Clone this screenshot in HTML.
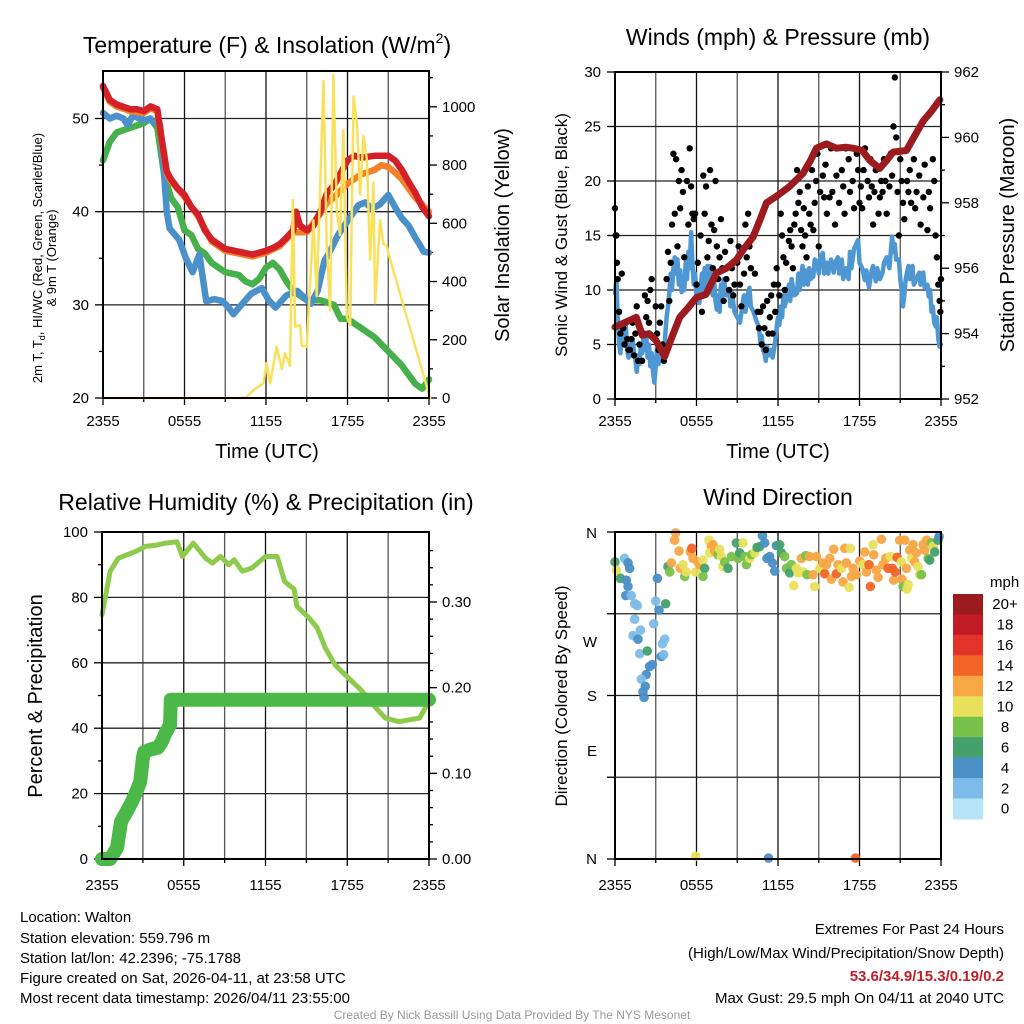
<!DOCTYPE html>
<html><head><meta charset="utf-8"><style>
html,body{margin:0;padding:0;background:#fff;}
svg{display:block;font-family:"Liberation Sans",Arial,sans-serif;}
</style></head><body>
<svg id="fig" width="1024" height="1024" viewBox="0 0 1024 1024" xmlns="http://www.w3.org/2000/svg">
<rect width="1024" height="1024" fill="#fff"/>
<g id="titles" fill="#000">
<text x="267" y="53" font-size="23" text-anchor="middle">Temperature (F) &amp; Insolation (W/m<tspan font-size="14" dy="-10">2</tspan><tspan dy="10">)</tspan></text>
<text x="778" y="45" font-size="23" text-anchor="middle">Winds (mph) &amp; Pressure (mb)</text>
<text x="266" y="510" font-size="23" text-anchor="middle">Relative Humidity (%) &amp; Precipitation (in)</text>
<text x="778" y="505" font-size="23" text-anchor="middle">Wind Direction</text>
<text x="267" y="458" font-size="20" text-anchor="middle">Time (UTC)</text>
<text x="778" y="458" font-size="20" text-anchor="middle">Time (UTC)</text>
<text transform="translate(42,258) rotate(-90)" font-size="13" text-anchor="middle">2m T, T<tspan font-size="9" dy="3">d</tspan><tspan dy="-3">, HI/WC (Red, Green, Scarlet/Blue)</tspan></text>
<text transform="translate(56,258) rotate(-90)" font-size="13" text-anchor="middle">&amp; 9m T (Orange)</text>
<text transform="translate(509,235) rotate(-90)" font-size="20" text-anchor="middle">Solar Insolation (Yellow)</text>
<text transform="translate(567,235) rotate(-90)" font-size="17" text-anchor="middle">Sonic Wind &amp; Gust (Blue, Black)</text>
<text transform="translate(1014,235) rotate(-90)" font-size="20" text-anchor="middle">Station Pressure (Maroon)</text>
<text transform="translate(42,696) rotate(-90)" font-size="20" text-anchor="middle">Percent &amp; Precipitation</text>
<text transform="translate(567,696) rotate(-90)" font-size="17" text-anchor="middle">Direction (Colored By Speed)</text>
</g>
<g id="info" font-size="15" fill="#000">
<text x="20" y="922">Location: Walton</text>
<text x="20" y="943">Station elevation: 559.796 m</text>
<text x="20" y="963">Station lat/lon: 42.2396; -75.1788</text>
<text x="20" y="983">Figure created on Sat, 2026-04-11, at 23:58 UTC</text>
<text x="20" y="1003">Most recent data timestamp: 2026/04/11 23:55:00</text>
<text x="1004" y="934" text-anchor="end">Extremes For Past 24 Hours</text>
<text x="1004" y="958" text-anchor="end">(High/Low/Max Wind/Precipitation/Snow Depth)</text>
<text x="1004" y="981" text-anchor="end" fill="#c0202a" font-weight="bold">53.6/34.9/15.3/0.19/0.2</text>
<text x="1004" y="1003" text-anchor="end">Max Gust: 29.5 mph On 04/11 at 2040 UTC</text>
<text x="512" y="1019" text-anchor="middle" font-size="12" fill="#999">Created By Nick Bassill Using Data Provided By The NYS Mesonet</text>
</g>
</svg>
<script>
// ---------- DATA ----------
const xTickLabels = ["2355","0555","1155","1755","2355"];
const tempTicks = [20,30,40,50];
const solarTicks = [0,200,400,600,800,1000];
const windTicks = [0,5,10,15,20,25,30];
const presTicks = [952,954,956,958,960,962];
const rhTicks = [0,20,40,60,80,100];
const precipTicks = [0,0.1,0.2,0.3];
const precipTickLabels = ["0.00","0.10","0.20","0.30"];
const dirLabels = ["N","W","S","E","N"];
const speedBins = ["0","2","4","6","8","10","12","14","16","18","20+"];
const speedColors = ["#b8e4f8","#7dbce8","#4a8fc6","#44a16e","#78c14b","#e8e05a","#f8a745","#f26527","#e0342b","#c21b25","#9b1b1e"];

const redT = [0,0.5,1,2,2.5,3,3.5,4,4.3,4.7,5,5.5,6,6.5,7,7.5,8,9,10,11,12,12.5,13,13.5,14,14.2,14.5,15,15.5,16,16.5,17,18,18.5,19,20,21,21.5,22,22.5,23,23.5,24];
const redV = [53.5,52,51.5,51,51,50.8,51.3,51,48,44.3,43.5,42.5,41.8,40.5,39.7,38,37,36,35.7,35.4,35.8,36.1,36.5,37.2,38,40,38.5,38,38.5,40,42,42.8,45.5,46,45.8,46,46,45.5,44.5,43.2,42,40.5,39.5];
const orangeT = [0,0.5,1,2,3,3.5,4,4.3,4.7,5,6,7,8,9,10,11,12,13,14,15,16,16.5,17,18,18.5,19,20,20.5,21,21.5,22,22.5,23,24];
const orangeV = [53.3,51.8,51.3,50.8,50.6,51.1,50.8,47.8,44.1,43.3,41.6,39.5,36.8,35.8,35.5,35.2,35.6,36.3,37.8,37.8,39.8,41,41.5,43,43.5,44,44.5,45,44.8,44.2,43.5,42.5,41.5,40];
const blueT = [0,0.5,1,1.5,1.8,2.2,3,3.5,3.7,4.2,4.5,4.7,4.9,5.2,5.6,6.1,6.6,7.1,7.6,8.2,8.8,9.2,9.6,10.2,10.9,11.7,12.2,12.7,13.5,14.3,15.3,15.8,16.3,16.8,17.3,18,18.8,19.3,19.8,20.4,21,21.5,22,22.5,23,23.3,23.6,24];
const blueV = [50.6,50,50.3,50,49.3,50.3,49.8,50,49.6,49.3,44,40,38.2,37.7,37,35,33.5,35.4,30.4,30.6,30.4,29.8,29,30,31.2,31.8,30.5,29.7,31,31.5,30.1,31.5,34.7,36,37.5,39,40.7,41,40.3,40.8,41.8,40.5,39.3,38.5,37.2,36.5,35.7,35.6];
const greenT = [0,0.5,1,2,3,3.5,4,4.5,5,5.5,6,6.5,7,7.5,8,9,10,10.5,11,11.5,12,12.5,13,13.5,14,15,16,17,17.5,18,19,20,21,22,23,23.5,24];
const greenV = [45.5,47.5,48.5,49,49.5,50,49,44,41.5,40.5,38,37.5,36,35.5,34.5,33.5,33.2,32.5,32.2,32.8,34,34.5,33.8,32.5,31.5,30.5,30.5,30,28.5,28.5,27.5,26.5,25,23.5,21.5,21,22];
const solarT = [0,10.5,11.07,11.81,12.05,12.3,12.79,13.16,13.4,13.77,13.97,14.14,14.51,14.63,15.0,15.49,15.73,15.98,16.23,16.47,16.72,16.96,17.21,17.45,17.7,17.95,18.2,18.44,18.69,18.93,19.18,19.42,19.67,19.91,20.03,20.16,20.4,20.65,20.9,21.14,24.08];
const solarV = [0,0,27,50,120,50,176,100,153,110,680,245,250,180,176,610,350,715,1090,530,300,1110,645,560,920,280,250,1035,945,700,900,820,475,740,326,420,610,530,520,475,0];

const presT = [0,1.57,2.0,2.5,3.0,3.66,4.2,4.76,5.4,5.99,6.7,7.46,8.2,8.94,9.5,10.16,10.7,11.15,11.88,12.86,13.84,14.4,14.83,15.56,16.3,17.0,17.52,18.2,18.75,19.49,20.0,20.47,21.45,22.0,22.68,23.3,23.91];
const presV = [954.2,954.5,953.95,954.0,953.8,953.3,953.9,954.5,954.8,955.1,955.2,955.85,956.0,956.25,956.6,956.95,957.5,958.0,958.2,958.5,958.9,959.3,959.67,959.8,959.67,959.7,959.67,959.6,959.3,959.05,959.3,959.55,959.6,960.0,960.5,960.8,961.15];
const windT = [
0,0.1,0.2,0.3,0.4,0.5,0.6,0.7,0.8,0.9,
1.0,1.1,1.2,1.3,1.4,1.5,1.6,1.7,1.8,1.9,
2.0,2.1,2.2,2.3,2.4,2.5,2.6,2.7,2.8,2.9,
3.0,3.1,3.2,3.3,3.4,3.5,3.6,3.7,3.8,3.9,
4.0,4.1,4.2,4.3,4.4,4.5,4.6,4.7,4.8,4.9,
5.0,5.1,5.2,5.3,5.4,5.5,5.6,5.7,5.8,5.9,
6.0,6.1,6.2,6.3,6.4,6.5,6.6,6.7,6.8,6.9,
7.0,7.1,7.2,7.3,7.4,7.5,7.6,7.7,7.8,7.9,
8.0,8.2,8.4,8.5,8.6,8.8,9.0,9.2,9.4,9.5,
9.6,9.8,9.9,10.0,10.2,10.4,10.6,10.7,10.8,10.9,
11.0,11.1,11.2,11.3,11.5,11.6,11.7,11.8,11.9,12.0,
12.1,12.2,12.3,12.4,12.5,12.6,12.8,12.9,13.0,13.2,
13.4,13.5,13.6,13.8,13.9,14.0,14.2,14.3,14.4,14.6,
14.7,14.9,15.0,15.1,15.3,15.4,15.6,15.7,15.9,16.1,
16.2,16.4,16.5,16.7,16.8,17.0,17.2,17.3,17.4,17.6,
17.9,18.0,18.2,18.4,18.5,18.7,18.9,19.0,19.2,19.3,
19.5,19.7,19.8,20.0,20.2,20.4,20.5,20.6,20.7,20.9,
21.0,21.1,21.2,21.3,21.4,21.6,21.7,21.9,22.0,22.2,
22.4,22.5,22.7,22.8,23.0,23.1,23.2,23.3,23.4,23.5,
23.6,23.7,23.8,23.9,24];
const windV = [
9.7,11,7.5,5,4.2,6,7,5.5,6.6,4.5,
3.8,5,4,5.5,4.2,3.6,2.5,4,3.2,5,
4.2,5.7,4.5,6,3.8,5,3,4.2,2.5,1.5,
3,4.8,3.2,4.5,3.5,5,3.8,6,7.5,8.5,
9.7,11.5,10,12,13,11.5,12.8,10.5,11.8,9.8,
11.2,10,12.5,11,13.5,12,15.3,12.5,10.5,11.5,
9.5,10.5,8.8,10,11.5,9.8,12,10.5,12.2,11,
12.2,10,9.5,10.8,9,8.2,9.5,8,10.5,9.2,
11,9.5,10,8.5,9.8,8,7.5,7,8.8,9.5,
8,9.7,10.2,8.5,8,7.2,6.6,5.2,5.8,4.5,
4.2,3.5,4.8,4,4.5,3.8,4.5,5.4,6.5,7.5,
6.8,8.5,7.5,9.5,8.5,9.1,10.5,9,11,9.5,
9.7,11.5,10,12.2,10.5,11.8,10.5,12,11,11.25,
12.8,12.5,11.5,13,13.4,11.5,12.5,11.5,12.8,11.6,
12.5,13,11.5,12.8,11,12,11,13.5,12,13.8,
14.6,12.5,12,10.9,11.8,10.2,11.8,12.2,10.8,12,
11,11.6,12.5,13,12,14.9,13.5,14.2,12.8,12.8,
11,10,8.5,9.5,11,12.2,11,12.2,10.5,11,
11.6,10.5,11.6,10.2,10.5,9.4,10,8,8.5,7,
6.65,7.5,5.5,4.8,5];
const gustT = [0,0.05,0.1,0.15,0.2,0.3,0.4,0.5,0.6,0.7,0.8,0.9,1.0,1.1,1.2,1.3,1.4,1.5,1.6,1.7,1.8,2.0,2.1,2.2,2.3,2.4,2.5,2.6,2.7,2.9,3.0,3.1,3.2,3.3,3.4,3.5,3.6,3.8,3.9,4.0,
4.1,4.2,4.3,4.4,4.5,4.6,4.7,4.8,4.9,5.0,5.1,5.3,5.4,5.5,5.6,5.7,5.8,5.9,6.0,6.1,6.3,6.4,6.5,6.6,6.7,6.8,6.9,
7.0,7.1,7.2,7.3,7.4,7.5,7.6,7.7,7.8,7.9,8.0,8.1,8.2,8.4,8.5,8.6,8.7,8.8,9.0,9.1,9.2,9.3,9.5,9.6,9.7,9.8,9.9,10.0,10.2,10.3,10.5,10.6,10.7,10.8,10.9,11.0,11.1,11.2,11.3,11.4,11.5,11.6,11.7,11.8,
11.9,12.0,12.1,12.2,12.3,12.4,12.5,12.6,12.8,12.9,13.0,13.1,13.2,13.3,13.4,13.5,13.6,13.7,13.8,13.9,
14.0,14.1,14.2,14.3,14.4,14.5,14.6,14.7,14.8,14.9,15.0,15.1,15.3,15.4,15.5,15.6,15.8,15.9,16.0,16.2,16.3,16.5,16.7,16.8,16.9,17.0,17.2,17.3,17.5,17.6,17.8,17.9,18.0,18.1,18.2,18.3,18.4,18.6,18.7,18.8,18.9,19.0,19.1,19.2,19.4,19.5,19.6,19.7,19.8,19.9,20.0,20.2,20.3,20.4,20.5,20.6,20.7,20.8,20.9,21.0,21.1,21.2,21.3,21.5,21.6,21.7,21.8,22.0,22.1,22.2,22.4,22.5,22.7,22.8,23.0,23.1,23.2,23.4,23.5,23.6,23.7,23.8,23.9,24.0,23.95];
const gustV = [17.5,15,15,12.5,11,8,6,11.5,6.5,5,7,5.5,4.5,4.5,5.5,7,4,6,8.5,3.5,5,3.5,6,9.5,7.5,9,7,10,11,5.5,8.5,6,4.5,7,8.5,5,3.5,11,13.5,9,
12.5,16,22.5,17,22,14,20,17.5,21,19,13,20,16,23,19.5,17,16.5,17,10.5,12.5,15,8,20.5,17,19.5,13,14.5,
21,16,12,15.5,20,14,11,13,16.5,12,9,13.5,11,10,14.5,12,9.5,10.5,12.5,14,10.5,8.5,11.5,16,13,17,14,12,15,11.5,8,6.5,8,5,8.5,6.5,4.5,9,6,7.5,9.5,6,10.5,8,
12,10.5,9.5,17,15,13,10,12.5,14.5,15.5,14,12,16,17,21,18,19,15.5,14,17.5,
15,13,19.5,17,16,21,15.5,18,20,22.5,14,19,20.5,18.5,21.5,17,18.5,23,19,16,20.5,18,21,19.5,17,23,22,19,20,17.5,22.5,21,18,19.5,17.5,21,23,20,18.5,22,19.5,16,19,21,17,18.5,20,19,22,20,17,19.5,22.5,20.5,25,29.5,24,19,15,22,20,18,16.5,20,19,21,18,22,17.5,19,20.5,16,18.5,21.5,15.5,19,17.5,22,20,15,13,10.5,9,11,8];

const rhT = [0,0.6,1.2,2.45,3.2,4.0,4.7,5.5,5.9,6.7,7.6,8.1,8.7,9.3,9.7,10.3,11,12,12.85,13.4,14.1,14.3,15.2,15.8,16.4,17.1,18.1,19.1,20.1,20.8,21.8,22.6,23.3,24];
const rhV = [74.7,88,92,94,95.6,96,96.6,97,92.5,96.6,92,90.5,92.5,90,91.5,88,89,92.5,92.5,84.9,82.5,77.3,73.7,70.6,64.5,59.4,55.3,51.3,46.2,43.1,42,42.6,43.1,48.2];
const precipT = [0,0.6,1.1,1.4,1.8,2.2,2.5,2.8,3.0,3.1,3.6,4.1,4.4,4.6,5.0,5.05,24];
const precipV = [0,0,0.013,0.044,0.055,0.067,0.078,0.09,0.118,0.125,0.128,0.13,0.137,0.145,0.157,0.186,0.186];

const dirT = [
0,0.1,0.4,0.7,0.96,1.08,0.83,0.96,0.79,1.2,
1.45,1.64,1.45,1.87,1.33,1.69,1.82,2.38,2.55,2.75,
2.3,1.94,2.23,2.06,2.14,3.41,3.58,3.49,3.66,2.85,
3.24,3.0,3.12,3.73,3.9,4.15,4.03,4.39,4.47,4.71,
4.81,5.0,5.13,5.25,5.55,5.65,5.74,5.94,6.11,6.23,
6.48,6.6,6.48,6.92,7.09,7.22,6.97,7.34,7.58,7.71,
7.83,7.95,8.08,8.32,8.57,8.93,9.06,9.18,9.43,9.55,
9.67,9.92,10.04,10.28,10.46,10.65,10.85,11.02,11.19,11.39,
11.59,11.76,11.88,12.12,12.25,12.49,12.62,12.86,12.98,13.16,
13.35,13.48,13.72,13.84,14.04,14.14,14.33,14.58,14.7,14.83,
15.07,15.32,15.44,15.56,15.81,15.93,16.1,16.3,16.42,16.67,
16.79,16.91,17.03,17.23,17.33,17.4,17.53,17.77,18.02,18.26,
18.38,18.51,18.7,18.8,19.0,19.05,19.24,19.37,19.61,19.73,
19.93,20.1,20.27,20.42,20.52,20.62,20.77,20.96,21.08,21.13,
21.21,21.33,21.45,21.5,21.58,21.7,21.82,21.94,22.07,22.19,
22.31,22.43,22.56,22.68,22.8,22.93,23.05,23.17,23.29,23.42,
23.54,23.78,23.86,5.95,11.3,17.7];
const dirV = [
327,318,309,331,326,320,307,300,290,290,
281,279,264,252,246,242,226,229,212,214,
203,198,190,184,178,223,225,237,242,259,
274,284,309,281,322,326,316,351,359,339,
320,324,311,316,338,342,331,316,327,324,
329,320,311,351,344,346,337,339,335,341,
333,322,327,320,333,348,331,337,348,333,
324,331,335,337,343,344,356,348,331,333,
326,317,345,346,337,333,320,315,324,301,
320,315,331,316,334,313,333,313,300,333,
320,326,314,324,331,308,341,314,324,320,
305,342,326,299,342,311,320,313,328,324,
338,316,324,300,346,335,318,310,352,324,
331,320,333,320,307,316,332,351,327,308,
300,351,320,297,302,340,331,346,327,337,
322,313,313,346,340,351,331,329,348,344,
338,351,355,3,1,1];
const dirS = [
7,10,6,2,4,4,4,4,4,2,
2,2,2,2,2,4,2,6,4,4,
4,2,4,4,4,4,2,2,2,2,
4,2,4,6,6,12,8,12,12,12,
12,10,8,10,12,14,12,10,12,12,
10,6,8,10,12,12,10,12,8,10,
10,10,8,6,8,6,8,6,10,8,
8,10,8,10,6,6,4,4,4,4,
4,4,4,6,6,8,8,6,8,10,
10,10,12,10,8,8,12,12,10,12,
10,12,14,12,12,12,12,14,12,10,
12,12,12,10,10,12,12,12,12,10,
12,12,14,14,10,12,12,12,12,12,
12,14,10,14,12,14,14,12,10,12,
8,12,12,10,10,12,10,12,12,12,
10,10,8,12,12,12,8,6,8,10,
6,6,4,10,4,14];

// ---------- DRAWING ----------
const svg = document.getElementById('fig');
const NS = 'http://www.w3.org/2000/svg';
function mk(tag, attrs, parent){ const e=document.createElementNS(NS,tag); for(const k in attrs) e.setAttribute(k,attrs[k]); (parent||svg).appendChild(e); return e; }

function panel(p){
  const g = mk('g',{});
  
  
  p.g = g; return g;
}
function xScale(p){ return t => p.x0 + t/24*(p.x1-p.x0); }
function lin(d0,d1,r0,r1){ return v => r0 + (v-d0)/(d1-d0)*(r1-r0); }

function frame(p, hTicksY, leftLabels, rightTicksY, rightLabels, leftMinorY, rightMinorY, xlabY){
  const g=p.g;
  const grid = mk('g',{stroke:'#222','stroke-width':1.3},g);
  
  
  const xs = xScale(p);
  for(let h=3;h<24;h+=3){ const x=xs(h); mk('line',{x1:x,x2:x,y1:p.y0,y2:p.y1, stroke: (h%6===0)?'#111':'#555'},grid); }
  hTicksY.forEach(y=>{ if(y>p.y0+1&&y<p.y1-1) mk('line',{x1:p.x0,x2:p.x1,y1:y,y2:y},grid); });
  const ax = mk('g',{stroke:'#000','stroke-width':1.3},g);
  
  
  hTicksY.forEach(y=> mk('line',{x1:p.x0-8,x2:p.x0,y1:y,y2:y},ax));
  (leftMinorY||[]).forEach(y=> mk('line',{x1:p.x0-4,x2:p.x0,y1:y,y2:y},ax));
  rightTicksY.forEach(y=> mk('line',{x1:p.x1,x2:p.x1+8,y1:y,y2:y},ax));
  (rightMinorY||[]).forEach(y=> mk('line',{x1:p.x1,x2:p.x1+4,y1:y,y2:y},ax));
  for(let h=0;h<=24;h+=3){ const x=xs(h); mk('line',{x1:x,x2:x,y1:p.y1,y2:p.y1+(h%6===0?7:4)},ax); }
  const lab = mk('g',{'font-size':15,fill:'#000'},g);
  
  
  leftLabels.forEach((s,i)=>{ const t=mk('text',{x:p.x0-14,y:hTicksY[i]+5,'text-anchor':'end'},lab); t.textContent=s; });
  rightLabels.forEach((s,i)=>{ const t=mk('text',{x:p.x1+13,y:rightTicksY[i]+5},lab); t.textContent=s; });
  xTickLabels.forEach((s,i)=>{ const t=mk('text',{x:xs(i*6),y:xlabY,'text-anchor':'middle'},lab); t.textContent=s; });
}
function drawBorder(p){
  const b = mk('rect',{x:p.x0,y:p.y0,width:p.x1-p.x0,height:p.y1-p.y0,fill:'none',stroke:'#000','stroke-width':2},p.g);
  
  
}
function line(p, ts, vs, ys, color, w, name){
  const xs=xScale(p);
  const d = ts.map((t,i)=>(i?'L':'M')+xs(t).toFixed(1)+','+ys(vs[i]).toFixed(1)).join('');
  const e = mk('path',{d:d,fill:'none',stroke:color,'stroke-width':w,'stroke-linejoin':'round','stroke-linecap':'round'},p.g);
  
  
  return e;
}

// Temperature panel
const P1={name:'temperature-panel',x0:103,x1:429,y0:71,y1:398}; panel(P1);
const tY = lin(20,55.1,398,71), sY = lin(0,1123,398,71);
frame(P1, tempTicks.map(tY), tempTicks.map(String), solarTicks.map(sY), solarTicks.map(String),
  [25,35,45].map(tY), [100,300,500,700,900,1100].map(sY), 426);
line(P1, greenT, greenV, tY, '#46b04a', 6.5, 'dewpoint-line');
line(P1, blueT, blueV, tY, '#4a90c9', 6.5, 'windchill-line');
line(P1, orangeT, orangeV, tY, '#f3822b', 6.5, 'temp-9m-line');
line(P1, redT, redV, tY, '#d42027', 6.5, 'temp-2m-line');
line(P1, solarT, solarV, sY, '#f9e15c', 2.5, 'solar-line');
drawBorder(P1);

// Wind panel
const P2={name:'wind-panel',x0:615,x1:941,y0:72,y1:399}; panel(P2);
const wY = lin(0,30,399,72), pY = lin(952,962,399,72);
frame(P2, windTicks.map(wY), windTicks.map(String), presTicks.map(pY), presTicks.map(String),
  [], [953,955,957,959,961].map(pY), 426);
line(P2, windT, windV, wY, '#4f97d3', 4.5, 'wind-speed-line');
{ const xs=xScale(P2); const gg=mk('g',{fill:'#000'},P2.g);
  
  
  gustT.forEach((t,i)=>{ const c=mk('circle',{cx:xs(t),cy:wY(gustV[i]),r:3.2},gg);
    
     }); }
line(P2, presT, presV, pY, '#9b1b1e', 7, 'pressure-line');
drawBorder(P2);

// RH panel
const P3={name:'humidity-panel',x0:102,x1:429,y0:532,y1:859}; panel(P3);
const rY = lin(0,100,859,532), prY = lin(0,0.3,859,602);
frame(P3, rhTicks.map(rY), rhTicks.map(String), precipTicks.map(prY), precipTickLabels,
  [10,30,50,70,90].map(rY), [0.02,0.04,0.06,0.08,0.12,0.14,0.16,0.18,0.22,0.24,0.26,0.28,0.32,0.34,0.36].map(prY), 890);
line(P3, rhT, rhV, rY, '#8ecb4c', 5, 'humidity-line');
line(P3, precipT, precipV, prY, '#4cb848', 14, 'precip-line');
drawBorder(P3);

// Direction panel
const P4={name:'direction-panel',x0:615,x1:941,y0:532,y1:859}; panel(P4);
const dY = lin(0,360,859,532);
frame(P4, [360,270,180,90,0].map(dY), [], [], [], [], [], 890);
{ const lab=mk('g',{'font-size':15,fill:'#000'},P4.g);
  
  
  const ly=[533,642,696,751,859];
  dirLabels.forEach((s,i)=>{ const t=mk('text',{x:597,y:ly[i]+5,'text-anchor':'end'},lab); t.textContent=s; }); }
{ const xs=xScale(P4); const gg=mk('g',{},P4.g);
  
  
  dirT.forEach((t,i)=>{ const bin=Math.max(0,Math.min(10,Math.floor((dirS[i]||0)/2)));
    const c=mk('circle',{cx:xs(t),cy:dY(dirV[i]),r:4.8,fill:speedColors[bin],'fill-opacity':0.95},gg);
    
     }); }
drawBorder(P4);

// Colorbar
{ const cb=mk('g',{},svg);
  
  
  const t=mk('text',{x:990,y:587,'font-size':15},cb); t.textContent='mph';
  const top=594, h=20.45;
  speedBins.forEach((s,i)=>{ const k=10-i; const y=top+i*h;
    const r=mk('rect',{x:953,y:y,width:30,height:h+0.5,fill:speedColors[k]},cb);
    
    
    const tx=mk('text',{x:1005,y:y+h/2+5,'font-size':15,'text-anchor':'middle'},cb); tx.textContent=speedBins[k]; });
}
</script>
</body></html>
